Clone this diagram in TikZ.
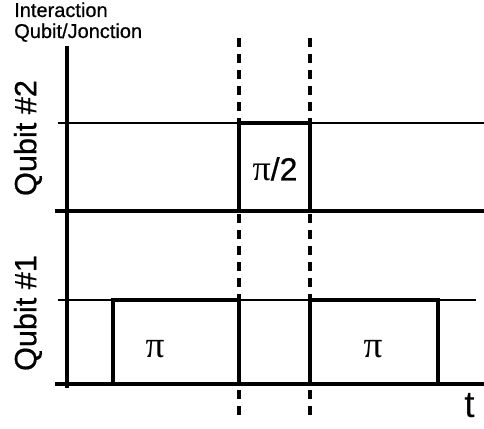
\documentclass[tikz,border=0pt]{standalone}
\usepackage{fontspec}
\setmainfont{Liberation Sans}
\newfontfamily\serifpi{Liberation Serif}
\newfontfamily\heavysans[FakeBold=0.6]{Liberation Sans}
\begin{document}
\begin{tikzpicture}[x=0.75pt,y=-0.75pt,
  thickln/.style={line width=3.2pt, line cap=rect},
  thinln/.style={line width=1.1pt},
  dashln/.style={line width=2.6pt, dash pattern=on 6.75pt off 5.25pt},
  ttl/.style={inner sep=0pt, anchor=base west, font=\heavysans\fontsize{15}{18}\selectfont},
  qlbl/.style={inner sep=0pt, rotate=90, font=\heavysans\fontsize{23}{26}\selectfont},
  pilbl/.style={inner sep=0pt, font=\heavysans\fontsize{24}{28}\selectfont}]
\path[use as bounding box] (0,0) rectangle (484,428);
\clip (0,0) rectangle (484,428);
% coordinates
\coordinate (axT) at (67,48);
\coordinate (axB) at (67,386);
\coordinate (d1T) at (239,38);
\coordinate (d1B) at (239,416);
\coordinate (d2T) at (310,38);
\coordinate (d2B) at (310,416);
\coordinate (h2L) at (58,123);
\coordinate (h2R) at (484,123);
\coordinate (h1L) at (58,300);
\coordinate (h1R) at (476,300);
\coordinate (b2L) at (57,211);
\coordinate (b2R) at (486,211);
\coordinate (b1L) at (57,384);
\coordinate (b1R) at (486,384);
\coordinate (p2a) at (239,211);
\coordinate (p2b) at (239,123);
\coordinate (p2c) at (310,123);
\coordinate (p2d) at (310,211);
\coordinate (pAa) at (113,384);
\coordinate (pAb) at (113,300);
\coordinate (pAc) at (239,300);
\coordinate (pAd) at (239,384);
\coordinate (pBa) at (310,384);
\coordinate (pBb) at (310,300);
\coordinate (pBc) at (438,300);
\coordinate (pBd) at (438,384);
% dashed time markers
\draw[dashln] (d1T) -- (d1B);
\draw[dashln] (d2T) -- (d2B);
% thin level lines
\draw[thinln] (h2L) -- (h2R);
\draw[thinln] (h1L) -- (h1R);
% axes and baselines
\draw[thickln] (axT) -- (axB);
\draw[thickln] (b2L) -- (b2R);
\draw[thickln] (b1L) -- (b1R);
% pulses
\draw[thickln, line cap=butt] (p2a) -- (p2b) -- (p2c) -- (p2d);
\draw[thickln, line cap=butt] (pAa) -- (pAb) -- (pAc) -- (pAd);
\draw[thickln, line cap=butt] (pBa) -- (pBb) -- (pBc) -- (pBd);
% labels
\node[ttl] (title1) at (14,17) {Interaction};
\node[ttl] (title2) at (14,38) {Qubit/Jonction};
\node[qlbl] (q2) at (28,138) {Qubit \#2};
\node[qlbl] (q1) at (28,313) {Qubit \#1};
\node[pilbl] (half) at (275,169) {{\serifpi\fontsize{27}{30}\selectfont π}/2};
\node[pilbl, font=\serifpi\fontsize{28}{30}\selectfont] (piA) at (155,349) {π};
\node[pilbl, font=\serifpi\fontsize{28}{30}\selectfont] (piB) at (373,349) {π};
\node[inner sep=0pt, anchor=base west, font=\fontsize{28}{32}\selectfont] (tt) at (464,417) {t};
\end{tikzpicture}
\end{document}
